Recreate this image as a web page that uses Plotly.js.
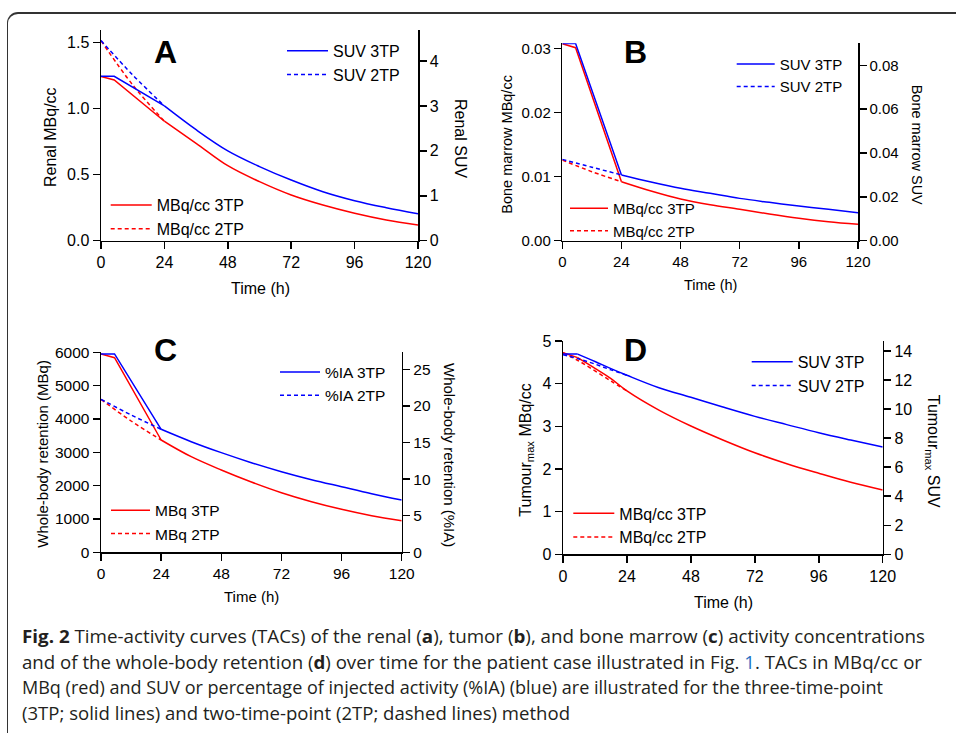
<!DOCTYPE html>
<html><head><meta charset="utf-8">
<script src="https://cdn.plot.ly/plotly-3.0.1.min.js"></script>
<style>
html,body{margin:0;padding:0;background:#fff;}
#wrap{position:relative;width:956px;height:733px;overflow:hidden;background:#fff;}
#chart{position:absolute;left:0;top:0;width:956px;height:733px;}
#frame{position:absolute;left:7px;top:12px;width:1100px;height:900px;border-left:1.6px solid #333;border-top:2px solid #333;border-top-left-radius:11px;pointer-events:none;}
.cap{position:absolute;left:22px;white-space:nowrap;font-family:'Open Sans','Noto Sans',sans-serif;font-size:18px;line-height:26px;color:#231f20;transform-origin:0 50%;}
.cap b{font-weight:700;}
.cap .lk{color:#1f6fc4;}
</style></head><body>
<div id="wrap">
<div id="chart"></div>
<div id="frame"></div>
<div class="cap" id="c1" data-w="903" style="top:623px"><b>Fig. 2</b> Time-activity curves (TACs) of the renal (<b>a</b>), tumor (<b>b</b>), and bone marrow (<b>c</b>) activity concentrations</div>
<div class="cap" id="c2" data-w="900" style="top:649px">and of the whole-body retention (<b>d</b>) over time for the patient case illustrated in Fig. <span class="lk">1</span>. TACs in MBq/cc or</div>
<div class="cap" id="c3" data-w="861" style="top:674px">MBq (red) and SUV or percentage of injected activity (%IA) (blue) are illustrated for the three-time-point</div>
<div class="cap" id="c4" data-w="548" style="top:700px">(3TP; solid lines) and two-time-point (2TP; dashed lines) method</div>
</div>
<script>
// ---------------- DATA ----------------
const timeTicks = [0, 24, 48, 72, 96, 120];

// Panel A - renal
const timeA3 = [0, 5, 24, 36, 48, 60, 72, 84, 96, 108, 120];
const renalMBq3 = [1.243, 1.218, 0.905, 0.738, 0.568, 0.447, 0.346, 0.27, 0.208, 0.157, 0.119];
const renalSUV3 = [3.66, 3.66, 3.0, 2.47, 2.0, 1.65, 1.35, 1.09, 0.89, 0.735, 0.60];
const timeA2 = [0, 12, 24];
const renalMBq2 = [1.515, 1.18, 0.905];
const renalSUV2 = [4.454, 3.69, 3.0];

// Panel B - bone marrow
const timeB3 = [0, 5.4, 24, 36, 48, 60, 72, 84, 96, 108, 120];
const marrowMBq3 = [0.0307, 0.0301, 0.0092, 0.00775, 0.0065, 0.0056, 0.0049, 0.00416, 0.0035, 0.00296, 0.00256];
const marrowSUV3 = [0.0899, 0.0899, 0.0300, 0.0268, 0.0239, 0.0216, 0.0193, 0.0175, 0.0158, 0.0143, 0.0128];
const timeB2 = [0, 12, 24];
const marrowMBq2 = [0.01258, 0.01076, 0.0092];
const marrowSUV2 = [0.0371, 0.0335, 0.0300];

// Panel C - whole body
const timeC3 = [0, 5.4, 24, 36, 48, 60, 72, 84, 96, 108, 120];
const wbMBq3 = [5949, 5838, 3369, 2868, 2469, 2109, 1788, 1518, 1290, 1098, 948];
const wbIA3 = [27.09, 27.09, 16.80, 15.11, 13.61, 12.24, 11.01, 9.92, 8.96, 8.01, 7.14];
const timeC2 = [0, 12, 24];
const wbMBq2 = [4590, 3939, 3369];
const wbIA2 = [20.9, 18.76, 16.8];

// Panel D - tumour
const timeD3 = [0, 5.5, 12, 18, 24, 36, 48, 60, 72, 84, 96, 108, 120];
const tumMBq3 = [4.726, 4.61, 4.36, 4.12, 3.83, 3.38, 3.007, 2.68, 2.38, 2.124, 1.90, 1.688, 1.507];
const tumSUV3 = [13.79, 13.79, 13.28, 12.79, 12.33, 11.47, 10.81, 10.14, 9.50, 8.93, 8.37, 7.87, 7.39];
const timeD2 = [0, 6, 12, 18, 24];
const tumMBq2 = [4.726, 4.53, 4.30, 4.06, 3.83];
const tumSUV2 = [13.75, 13.45, 13.1, 12.7, 12.33];

// ---------------- LAYOUT ----------------
const W = 956, H = 733;
const FONT = 'Liberation Sans, Arial, sans-serif';
const RED = '#ff0000', BLUE = '#0000ff';
const px = v => v / W, py = v => 1 - v / H;

const panels = [
  {letter:'A', x:'x', yl:'y', yr:'y2', box:[101,418,30,240.7], lr:[0,1.596], rr:[0,4.69], k:2,
   lt:{dtick:0.5, tickformat:'.1f'}, rt:{dtick:1}, fs:16, tfs:16,
   ltitle:'Renal MBq/cc', rtitle:'Renal SUV', lpos:[50,137], rpos:[460,138], tpos:[260,288], lpos2:[165,52],
   t3:timeA3, r3:renalMBq3, b3:renalSUV3, t2:timeA2, r2:renalMBq2, b2:renalSUV2,
   rn:['MBq/cc 3TP','MBq/cc 2TP'], bn:['SUV 3TP','SUV 2TP'],
   legB:{L:282, T:33.8, iw:41}, legR:{L:105.7, T:188.1, iw:41}},
  {letter:'B', x:'x2', yl:'y3', yr:'y4', box:[562.3,858,43.3,240.7], lr:[0,0.03078], rr:[0,0.09003], k:2,
   lt:{dtick:0.01, tickformat:'.2f'}, rt:{dtick:0.02, tickformat:'.2f'}, fs:15, tfs:14.5,
   ltitle:'Bone marrow MBq/cc', rtitle:'Bone marrow SUV', lpos:[506.7,144], rpos:[917.3,145], tpos:[710,285], lpos2:[635,52],
   t3:timeB3, r3:marrowMBq3, b3:marrowSUV3, t2:timeB2, r2:marrowMBq2, b2:marrowSUV2,
   rn:['MBq/cc 3TP','MBq/cc 2TP'], bn:['SUV 3TP','SUV 2TP'],
   legB:{L:731.7, T:47.75, iw:38}, legR:{L:565, T:192, iw:38}},
  {letter:'C', x:'x3', yl:'y5', yr:'y6', box:[101,401.7,351.7,552.3], lr:[0,6018], rr:[0,27.4], k:2,
   lt:{dtick:1000, tickformat:'d'}, rt:{dtick:5}, fs:15.5, tfs:15,
   ltitle:'Whole-body retention (MBq)', rtitle:'Whole-body retention (%IA)', lpos:[41.7,454], rpos:[450,455], tpos:[251.7,596.7], lpos2:[165,350],
   t3:timeC3, r3:wbMBq3, b3:wbIA3, t2:timeC2, r2:wbMBq2, b2:wbIA2,
   rn:['MBq 3TP','MBq 2TP'], bn:['%IA 3TP','%IA 2TP'],
   legB:{L:275, T:355.4, iw:40}, legR:{L:106, T:493.75, iw:39}},
  {letter:'D', x:'x4', yl:'y7', yr:'y8', box:[563,882.7,341,554.3], lr:[0,5.0], rr:[0,14.69], k:1,
   lt:{dtick:1}, rt:{dtick:2}, fs:16, tfs:16,
   ltitle:'Tumour<sub>max</sub> MBq/cc', rtitle:'Tumour<sub>max</sub> SUV', lpos:[526.7,450], rpos:[933.3,451], tpos:[723.3,602.7], lpos2:[635,350],
   t3:timeD3, r3:tumMBq3, b3:tumSUV3, t2:timeD2, r2:tumMBq2, b2:tumSUV2,
   rn:['MBq/cc 3TP','MBq/cc 2TP'], bn:['SUV 3TP','SUV 2TP'],
   legB:{L:746.7, T:344.8, iw:41}, legR:{L:568.3, T:496.4, iw:41}}
];

const axName = id => id.replace(/^x/, 'xaxis').replace(/^y/, 'yaxis');
const layout = {
  width: W, height: H, margin:{l:0,r:0,t:0,b:0},
  paper_bgcolor:'rgba(0,0,0,0)', plot_bgcolor:'rgba(0,0,0,0)',
  font:{family:FONT, color:'#000'},
  showlegend:true, annotations:[], hovermode:false
};
const data = [];
const baseAx = fs => ({showline:true, linecolor:'#000', linewidth:1.5, ticks:'outside', ticklen:7, tickwidth:1.5,
  tickcolor:'#000', showgrid:false, zeroline:false, fixedrange:true, tickfont:{family:FONT, size:fs, color:'#000'}});

panels.forEach((p, i) => {
  const [x0, x1, y0, y1] = p.box;
  const legBlue = i === 0 ? 'legend' : 'legend' + (2*i + 1);
  const legRed = 'legend' + (2*i + 2);
  layout[axName(p.x)] = Object.assign(baseAx(p.fs), {domain:[px(x0), px(x1)], range:[0,120], tickvals:timeTicks, anchor:p.yl});
  layout[axName(p.yl)] = Object.assign(baseAx(p.fs), {domain:[py(y1), py(y0)], range:p.lr, anchor:p.x, side:'left'}, p.lt);
  layout[axName(p.yr)] = Object.assign(baseAx(p.fs), {domain:[py(y1), py(y0)], range:p.rr, anchor:p.x, side:'right', overlaying:p.yl}, p.rt);

  const lg = (o) => ({x:px(o.L), y:py(o.T), xanchor:'left', yanchor:'top', bgcolor:'rgba(0,0,0,0)', borderwidth:0,
    itemwidth:o.iw, traceorder:'normal', font:{family:FONT, size:p.fs, color:'#000'}});
  layout[legBlue] = lg(p.legB);
  layout[legRed] = lg(p.legR);

  const tr = (xs, ys, ya, color, dash, name, leg, shape, show) => ({x:xs, y:ys, xaxis:p.x, yaxis:ya, type:'scatter', mode:'lines',
    line:{color:color, width:1.5, dash:dash, shape:shape, smoothing:1}, name:name, legend:leg, showlegend:show, hoverinfo:'skip'});
  const k = p.k;
  // 3TP: linear rising/flat segment then smooth decay
  data.push(tr(p.t3.slice(0,k+1), p.r3.slice(0,k+1), p.yl, RED, 'solid', p.rn[0], legRed, 'linear', true));
  data.push(tr(p.t3.slice(k), p.r3.slice(k), p.yl, RED, 'solid', p.rn[0], legRed, 'spline', false));
  data.push(tr(p.t2, p.r2, p.yl, RED, '4px,3px', p.rn[1], legRed, 'spline', true));
  data.push(tr(p.t3.slice(0,k+1), p.b3.slice(0,k+1), p.yr, BLUE, 'solid', p.bn[0], legBlue, 'linear', true));
  data.push(tr(p.t3.slice(k), p.b3.slice(k), p.yr, BLUE, 'solid', p.bn[0], legBlue, 'spline', false));
  data.push(tr(p.t2, p.b2, p.yr, BLUE, '4px,3px', p.bn[1], legBlue, 'spline', true));

  const ann = (pos, text, size, angle, bold) => ({xref:'paper', yref:'paper', x:px(pos[0]), y:py(pos[1]),
    xanchor:'center', yanchor:'middle', text: bold ? '<b>'+text+'</b>' : text, textangle:angle, showarrow:false,
    font:{family:FONT, size:size, color:'#000'}});
  layout.annotations.push(ann(p.lpos, p.ltitle, p.tfs, -90));
  layout.annotations.push(ann(p.rpos, p.rtitle, p.tfs, 90));
  layout.annotations.push(ann(p.tpos, 'Time (h)', p.tfs, 0));
  layout.annotations.push(ann(p.lpos2, p.letter, 32, 0, true));
});

Plotly.newPlot('chart', data, layout, {staticPlot:true, displayModeBar:false});

function fitCaption(){
  document.querySelectorAll('.cap').forEach(el => {
    el.style.transform = 'none';
    const w = el.getBoundingClientRect().width;
    const target = parseFloat(el.dataset.w);
    el.style.transform = 'scaleX(' + (target / w) + ')';
  });
}
if (document.fonts && document.fonts.ready) { document.fonts.ready.then(fitCaption); } else { fitCaption(); }
fitCaption();
</script>
</body></html>
